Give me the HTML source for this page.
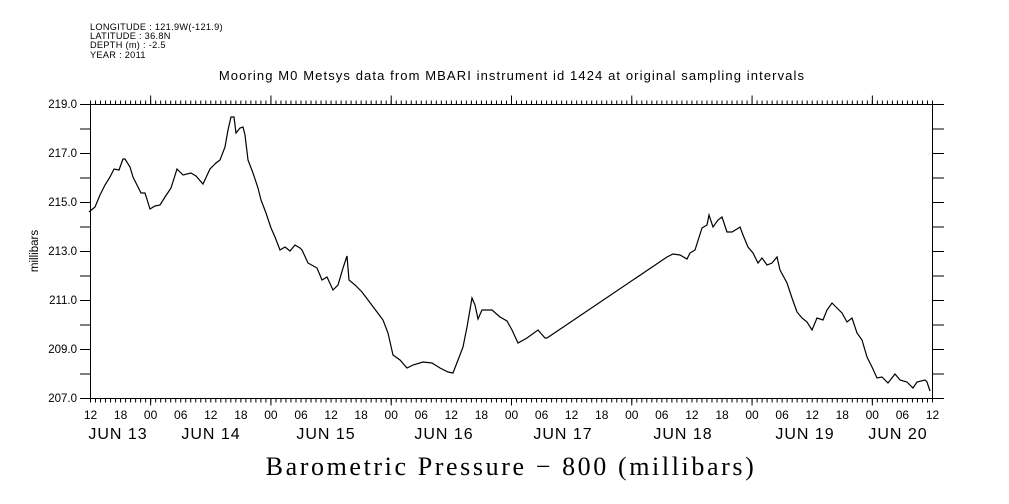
<!DOCTYPE html>
<html><head><meta charset="utf-8"><style>body{margin:0;background:#fff}svg{display:block}</style></head>
<body>
<svg width="1009" height="504" viewBox="0 0 1009 504" xmlns="http://www.w3.org/2000/svg" font-family="Liberation Sans, sans-serif">
<rect width="1009" height="504" fill="#fff"/>
<g font-size="9.2" fill="#000" letter-spacing="0.3">
<text x="90" y="30">LONGITUDE : 121.9W(-121.9)</text>
<text x="90" y="39">LATITUDE : 36.8N</text>
<text x="90" y="48">DEPTH (m) : -2.5</text>
<text x="90" y="58">YEAR : 2011</text>
</g>
<text x="512" y="80" font-size="13" text-anchor="middle" letter-spacing="1.1">Mooring M0 Metsys data from MBARI instrument id 1424 at original sampling intervals</text>
<rect x="90.5" y="104.5" width="842" height="294" fill="none" stroke="#000" stroke-width="1"/>
<g stroke="#000" fill="none">
<line x1="90" y1="102.5" x2="933" y2="102.5" stroke-width="4" stroke-dasharray="1 4.0119"/>
<line x1="150.14" y1="100" x2="933" y2="100" stroke-width="9" stroke-dasharray="1 119.286"/>
<line x1="90" y1="400.5" x2="933" y2="400.5" stroke-width="4" stroke-dasharray="1 4.0119"/>
<line x1="150.14" y1="402" x2="933" y2="402" stroke-width="7" stroke-dasharray="1 119.286"/>
<line x1="85.25" y1="104" x2="85.25" y2="400" stroke-width="10.5" stroke-dasharray="1 23.5"/>
<line x1="938.25" y1="104" x2="938.25" y2="400" stroke-width="11.5" stroke-dasharray="1 23.5"/>
</g>
<g font-size="11.5" text-anchor="end">
<text x="77" y="108">219.0</text><text x="77" y="157">217.0</text><text x="77" y="206">215.0</text>
<text x="77" y="255">213.0</text><text x="77" y="304">211.0</text><text x="77" y="353">209.0</text><text x="77" y="402">207.0</text>
</g>
<text x="38" y="251" font-size="11.5" text-anchor="middle" transform="rotate(-90 38 251)">millibars</text>
<g font-size="12" text-anchor="middle">
<text x="90.5" y="419">12</text><text x="120.6" y="419">18</text><text x="150.6" y="419">00</text><text x="180.7" y="419">06</text>
<text x="210.8" y="419">12</text><text x="240.9" y="419">18</text><text x="270.9" y="419">00</text><text x="301" y="419">06</text>
<text x="331.1" y="419">12</text><text x="361.1" y="419">18</text><text x="391.2" y="419">00</text><text x="421.3" y="419">06</text>
<text x="451.3" y="419">12</text><text x="481.4" y="419">18</text><text x="511.5" y="419">00</text><text x="541.6" y="419">06</text>
<text x="571.6" y="419">12</text><text x="601.7" y="419">18</text><text x="631.8" y="419">00</text><text x="661.8" y="419">06</text>
<text x="691.9" y="419">12</text><text x="722" y="419">18</text><text x="752" y="419">00</text><text x="782.1" y="419">06</text>
<text x="812.2" y="419">12</text><text x="842.3" y="419">18</text><text x="872.3" y="419">00</text><text x="902.4" y="419">06</text>
<text x="932.5" y="419">12</text>
</g>
<g font-size="16" text-anchor="middle" letter-spacing="1">
<text x="118" y="439">JUN 13</text><text x="211" y="439">JUN 14</text><text x="326" y="439">JUN 15</text>
<text x="444" y="439">JUN 16</text><text x="563" y="439">JUN 17</text><text x="683" y="439">JUN 18</text>
<text x="805" y="439">JUN 19</text><text x="898" y="439">JUN 20</text>
</g>
<text x="511" y="475" font-family="Liberation Serif, serif" font-size="26" text-anchor="middle" letter-spacing="2.6">Barometric Pressure − 800 (millibars)</text>
<polyline fill="none" stroke="#000" stroke-width="1.2" points="
89,212 95,207 100,195 105,185 110,177 114,169 119,170 123,159 125,159 130,167 133,177 138,187 141,193 145,193 150,209 155,206 160,205 165,197 171,188 177,169 183,175 191,173 196,176 203,184 210,169 216,163 220,160 225,147 228,130 231,117 234,117 236,133 240,128 243,127 245,135 248,160 253,173 258,188 261,200 266,213 271,228 275,237 280,250 285,247 290,251 295,245 300,248 302,250 308,263 317,268 322,280 327,277 333,290 338,285 343,268 347,256 349,280 355,285 362,292 368,300 377,312 383,320 388,333 393,355 400,360 407,368 413,365 423,362 432,363 440,368 448,372 453,373 458,360 463,347 467,327 472,298 475,305 478,319 482,310 492,310 500,317 507,321 512,330 518,343 527,338 538,330 545,338 547,338 667,257 673,254 680,255 687,259 690,253 695,250 702,228 707,225 709,215 713,227 718,220 722,217 727,232 732,232 737,229 740,227 743,235 748,247 753,253 758,263 762,258 767,265 772,263 777,257 780,270 787,283 792,298 797,312 802,318 807,322 812,330 817,318 823,320 827,310 832,303 837,308 842,313 847,322 852,318 857,333 862,340 867,357 872,367 877,378 882,377 888,383 895,374 900,380 907,382 913,388 917,382 925,380 927,382 930,391"/>
</svg>
</body></html>
